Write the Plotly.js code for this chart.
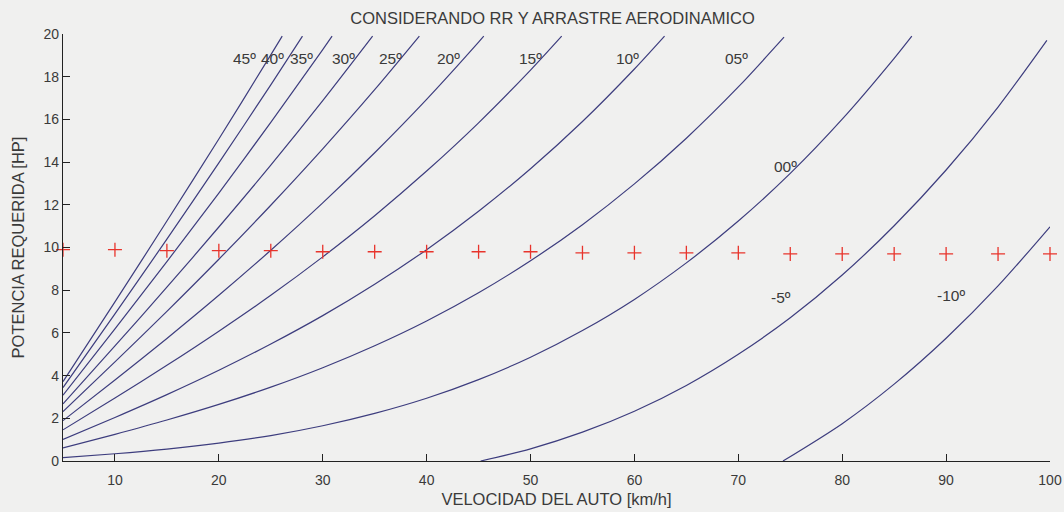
<!DOCTYPE html>
<html>
<head>
<meta charset="utf-8">
<script src="https://cdn.plot.ly/plotly-3.0.1.min.js"></script>
<style>
html,body{margin:0;padding:0;background:#f0f0ef;}
#chart{width:1064px;height:512px;}
</style>
</head>
<body>
<div id="chart"></div>
<script>
// Speeds [km/h] and required power [HP], one pair per slope
const v45 = [5, 10, 15, 20, 25, 26.1];
const p45 = [3.72, 7.45, 11.24, 15.08, 19.02, 19.9];
const v40 = [5, 10, 15, 20, 25, 28.05];
const p40 = [3.44, 6.89, 10.39, 13.96, 17.62, 19.9];
const v35 = [5, 10, 15, 20, 25, 30, 30.9];
const p35 = [3.08, 6.19, 9.34, 12.55, 15.86, 19.27, 19.9];
const v30 = [5, 10, 15, 20, 25, 30, 34.8];
const p30 = [2.68, 5.39, 8.14, 10.96, 13.86, 16.88, 19.9];
const v25 = [5, 10, 15, 20, 25, 30, 35, 39.3];
const p25 = [2.31, 4.64, 7.01, 9.45, 11.98, 14.62, 17.39, 19.9];
const v20 = [5, 10, 15, 20, 25, 30, 35, 40, 45, 45.5];
const p20 = [1.89, 3.79, 5.74, 7.76, 9.87, 12.09, 14.44, 16.94, 19.62, 19.9];
const v15 = [5, 10, 15, 20, 25, 30, 35, 40, 45, 50, 53];
const p15 = [1.46, 2.95, 4.48, 6.08, 7.76, 9.56, 11.49, 13.58, 15.84, 18.31, 19.9];
const v10 = [5, 10, 15, 20, 25, 30, 35, 40, 45, 50, 55, 60, 62.9];
const p10 = [1.01, 2.04, 3.11, 4.25, 5.48, 6.81, 8.28, 9.90, 11.70, 13.69, 15.90, 18.36, 19.9];
const v05 = [5, 10, 15, 20, 25, 30, 35, 40, 45, 50, 55, 60, 65, 70, 74.4];
const p05 = [0.61, 1.25, 1.92, 2.65, 3.46, 4.37, 5.40, 6.56, 7.88, 9.38, 11.07, 12.98, 15.12, 17.52, 19.85];
const v00 = [5, 10, 15, 20, 25, 30, 35, 40, 45, 50, 55, 60, 65, 70, 75, 80, 85, 86.7];
const p00 = [0.16, 0.34, 0.56, 0.84, 1.19, 1.65, 2.23, 2.94, 3.81, 4.86, 6.11, 7.57, 9.28, 11.24, 13.47, 16.01, 18.86, 19.9];
const vm5 = [45.2, 50, 55, 60, 65, 70, 75, 80, 85, 90, 95, 99.7];
const pm5 = [0, 0.57, 1.35, 2.33, 3.54, 5.0, 6.71, 8.71, 11.02, 13.63, 16.58, 19.7];
const vm10 = [74.3, 80, 85, 90, 95, 100];
const pm10 = [0, 1.75, 3.6, 5.75, 8.2, 10.97];

// Red reference crosses
const crossV = [5, 10, 15, 20, 25, 30, 35, 40, 45, 50, 55, 60, 65, 70, 75, 80, 85, 90, 95, 100];
const crossP = [9.9, 9.9, 9.85, 9.85, 9.85, 9.8, 9.8, 9.8, 9.8, 9.8, 9.75, 9.75, 9.75, 9.75, 9.7, 9.7, 9.7, 9.7, 9.7, 9.7];

// Curve labels
const labelText = ["45º", "40º", "35º", "30º", "25º", "20º", "15º", "10º", "05º", "00º", "-5º", "-10º"];
const labelV = [22.5, 25.2, 28.0, 32.0, 36.5, 42.1, 50.0, 59.3, 69.8, 74.5, 74.1, 90.5];
const labelP = [18.87, 18.87, 18.87, 18.87, 18.87, 18.87, 18.87, 18.87, 18.87, 13.8, 7.65, 7.75];

const xTicks = [10, 20, 30, 40, 50, 60, 70, 80, 90, 100];
const yTicks = [0, 2, 4, 6, 8, 10, 12, 14, 16, 18, 20];

const curves = [
  [v45, p45], [v40, p40], [v35, p35], [v30, p30], [v25, p25], [v20, p20],
  [v15, p15], [v10, p10], [v05, p05], [v00, p00], [vm5, pm5], [vm10, pm10]
];

const FONT = "Liberation Sans, Arial, sans-serif";
const TXT = "#3a3a3a";
const LINE = "#3d3d7e";

const traces = curves.map((c, i) => ({
  x: c[0], y: c[1], type: "scatter", mode: "lines",
  name: labelText[i],
  line: {color: LINE, width: 1.2, shape: "spline", smoothing: 0.8},
  hoverinfo: "x+y+name"
}));

traces.push({
  x: crossV, y: crossP, type: "scatter", mode: "markers",
  name: "10 HP",
  cliponaxis: false,
  marker: {symbol: "cross-thin", size: 10, line: {color: "#e8342c", width: 1.3}, color: "#e8342c"}
});

const annotations = labelText.map((t, i) => ({
  x: labelV[i], y: labelP[i], xref: "x", yref: "y",
  text: t, showarrow: false,
  font: {family: FONT, size: 15.5, color: TXT},
  xanchor: "center", yanchor: "middle"
}));

const layout = {
  width: 1064, height: 512,
  margin: {l: 63, r: 14, t: 34, b: 51},
  paper_bgcolor: "#f0f0ef",
  plot_bgcolor: "#f0f0ef",
  showlegend: false,
  title: {
    text: "CONSIDERANDO RR Y ARRASTRE AERODINAMICO",
    font: {family: FONT, size: 16.5, color: TXT},
    x: 0.496, xref: "paper", xanchor: "center",
    y: 0.965, yref: "container", yanchor: "middle"
  },
  xaxis: {
    range: [5, 100],
    tickvals: xTicks,
    ticktext: xTicks.map(String),
    ticks: "inside", ticklen: 7, tickwidth: 1, tickcolor: "#222",
    showline: true, linecolor: "#222", linewidth: 1.2,
    showgrid: false, zeroline: false,
    ticklabelstandoff: 6,
    tickfont: {family: FONT, size: 14, color: TXT},
    title: {text: "VELOCIDAD DEL AUTO [km/h]", font: {family: FONT, size: 16.5, color: TXT}, standoff: 6}
  },
  yaxis: {
    range: [0, 20],
    tickvals: yTicks,
    ticktext: yTicks.map(String),
    ticks: "inside", ticklen: 7, tickwidth: 1, tickcolor: "#222",
    showline: true, linecolor: "#222", linewidth: 1.2,
    showgrid: false, zeroline: false,
    tickfont: {family: FONT, size: 14, color: TXT},
    title: {text: "POTENCIA REQUERIDA [HP]", font: {family: FONT, size: 16.5, color: TXT}, standoff: 14}
  },
  annotations: annotations
};

Plotly.newPlot("chart", traces, layout, {displayModeBar: false, staticPlot: true});
</script>
</body>
</html>
